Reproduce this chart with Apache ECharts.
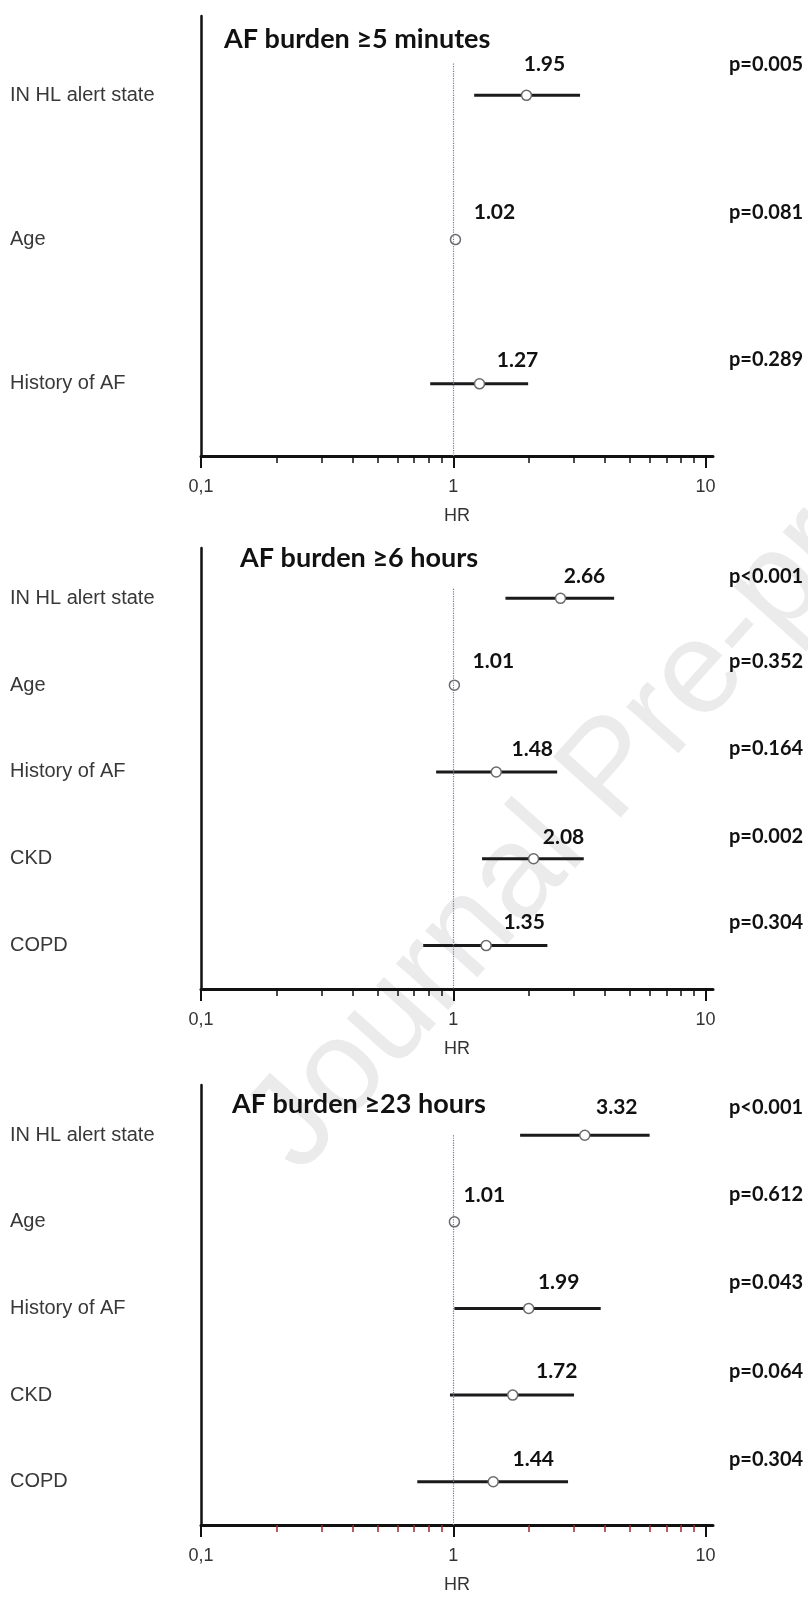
<!DOCTYPE html>
<html>
<head>
<meta charset="utf-8">
<script src="https://cdn.jsdelivr.net/npm/echarts@6/dist/echarts.min.js"></script>
<style>
  html, body { margin: 0; padding: 0; background: #fff; }
  #chart { width: 808px; height: 1597px; }
</style>
</head>
<body>
<div id="chart"></div>
<script>
// ---------------- DATA ----------------
const TITLES = ['AF burden ≥5 minutes', 'AF burden ≥6 hours', 'AF burden ≥23 hours'];

const ROWS_1 = ['IN HL alert state', 'Age', 'History of AF'];
const HR_1 = [1.95, 1.02, 1.27];
const LO_1 = [1.21, 1.00, 0.81];
const HI_1 = [3.18, 1.04, 1.98];
const P_1 = ['p=0.005', 'p=0.081', 'p=0.289'];

const ROWS_2 = ['IN HL alert state', 'Age', 'History of AF', 'CKD', 'COPD'];
const HR_2 = [2.66, 1.01, 1.48, 2.08, 1.35];
const LO_2 = [1.61, 0.99, 0.855, 1.30, 0.76];
const HI_2 = [4.34, 1.03, 2.58, 3.29, 2.36];
const P_2 = ['p<0.001', 'p=0.352', 'p=0.164', 'p=0.002', 'p=0.304'];

const ROWS_3 = ['IN HL alert state', 'Age', 'History of AF', 'CKD', 'COPD'];
const HR_3 = [3.32, 1.01, 1.99, 1.72, 1.44];
const LO_3 = [1.84, 0.99, 1.01, 0.97, 0.72];
const HI_3 = [6.00, 1.03, 3.84, 3.01, 2.85];
const P_3 = ['p<0.001', 'p=0.612', 'p=0.043', 'p=0.064', 'p=0.304'];

const X_MAJOR_TICKS = [0.1, 1, 10];
const X_MINOR_TICKS = [0.2, 0.3, 0.4, 0.5, 0.6, 0.7, 0.8, 0.9, 2, 3, 4, 5, 6, 7, 8, 9];
const X_AXIS_NAME = 'HR';
const WATERMARK = 'Journal Pre-proof';

// ---------------- LAYOUT / STYLE ----------------
const PANELS = [
  { rows: ROWS_1, hr: HR_1, lo: LO_1, hi: HI_1, p: P_1,
    top: 16, bottom: 456, yMinExt: 0.05, refStart: -0.22,
    titleLeft: 224, titleTop: 26, minorColor: '#111',
    lblOff: [[18, -31], [39, -27], [38, -24]] },
  { rows: ROWS_2, hr: HR_2, lo: LO_2, hi: HI_2, p: P_2,
    top: 548, bottom: 989, yMinExt: 0.08, refStart: -0.11,
    titleLeft: 240, titleTop: 545, minorColor: '#111',
    lblOff: [[24, -22], [39, -24], [36, -23], [30, -22], [38, -23]] },
  { rows: ROWS_3, hr: HR_3, lo: LO_3, hi: HI_3, p: P_3,
    top: 1085, bottom: 1525, yMinExt: 0.08, refStart: 0.0,
    titleLeft: 232, titleTop: 1091, minorColor: '#a0282d',
    lblOff: [[32, -28], [30, -27], [30, -26], [44, -24], [40, -22]] }
];
const GRID_LEFT = 201;
const GRID_WIDTH = 512;
const X_MIN = 0.1, X_MAX = 10.7;

const grids = [], xAxes = [], yAxes = [], series = [], titles = [];

PANELS.forEach((pn, k) => {
  const n = pn.rows.length;
  const yMin = -0.5 - pn.yMinExt, yMax = n - 0.5;
  const gridH = pn.bottom - pn.top;
  const slot = gridH / (yMax - yMin);
  grids.push({ left: GRID_LEFT, width: GRID_WIDTH, top: pn.top, height: gridH, containLabel: false });

  titles.push({
    text: TITLES[k], left: pn.titleLeft, top: pn.titleTop, padding: 0,
    textStyle: { fontFamily: 'Lato', fontWeight: 'bold', fontSize: 27, color: '#111' }
  });

  // major x axis
  xAxes.push({
    type: 'log', logBase: 10, gridIndex: k, min: X_MIN, max: X_MAX, position: 'bottom',
    axisLine: { show: true, onZero: false, lineStyle: { color: '#111', width: 3 } },
    axisTick: { show: true, customValues: X_MAJOR_TICKS, length: 12, lineStyle: { color: '#111', width: 2 } },
    axisLabel: {
      show: true, customValues: X_MAJOR_TICKS, margin: 22,
      fontFamily: 'Liberation Sans', fontSize: 18, color: '#333',
      formatter: v => (Math.abs(v - 0.1) < 1e-9 ? '0,1' : String(Math.round(v)))
    },
    splitLine: { show: false },
    name: X_AXIS_NAME, nameLocation: 'middle', nameGap: 51,
    nameTextStyle: { fontFamily: 'Liberation Sans', fontSize: 18, color: '#333' }
  });
  // minor tick axis
  xAxes.push({
    type: 'log', logBase: 10, gridIndex: k, min: X_MIN, max: X_MAX, position: 'bottom',
    axisLine: { show: false, onZero: false },
    axisTick: { show: true, customValues: X_MINOR_TICKS, length: 7, lineStyle: { color: pn.minorColor, width: 1.5 } },
    axisLabel: { show: false },
    splitLine: { show: false }
  });

  const idx = pn.rows.map((_, i) => i);
  // left y axis with row names
  yAxes.push({
    type: 'value', gridIndex: k, inverse: true, min: yMin, max: yMax, position: 'left',
    axisLine: { show: true, onZero: false, lineStyle: { color: '#111', width: 2.5 } },
    axisTick: { show: false },
    splitLine: { show: false },
    axisLabel: {
      show: true, customValues: idx, margin: GRID_LEFT - 10, align: 'left',
      fontFamily: 'Liberation Sans', fontSize: 20, color: '#383838',
      formatter: v => pn.rows[Math.round(v)]
    }
  });
  // right y axis with p values
  yAxes.push({
    type: 'value', gridIndex: k, inverse: true, min: yMin, max: yMax, position: 'right',
    axisLine: { show: false, onZero: false }, axisTick: { show: false }, splitLine: { show: false },
    axisLabel: {
      show: true, customValues: idx.map(i => i + pn.lblOff[i][1] / slot), margin: 16, align: 'left',
      fontFamily: 'Lato', fontWeight: 'bold', fontSize: 20, color: '#111',
      formatter: v => pn.p[Math.round(v)]
    }
  });

  const xMajor = k * 2, yLeft = k * 2;
  // CI lines
  series.push({
    type: 'custom', xAxisIndex: xMajor, yAxisIndex: yLeft, z: 3,
    data: idx.map(i => [pn.lo[i], pn.hi[i], i]),
    encode: { x: [0, 1], y: 2 },
    renderItem: (params, api) => {
      const a = api.coord([api.value(0), api.value(2)]);
      const b = api.coord([api.value(1), api.value(2)]);
      return { type: 'line', shape: { x1: a[0], y1: a[1], x2: b[0], y2: b[1] },
               style: { stroke: '#1a1a1a', lineWidth: 3 } };
    },
    markLine: {
      silent: true, symbol: 'none', label: { show: false },
      lineStyle: { color: '#7272c4', type: 'dotted', width: 1.2 },
      data: [[{ coord: [1, pn.refStart] }, { coord: [1, yMax] }]]
    }
  });
  // HR points
  series.push({
    type: 'scatter', xAxisIndex: xMajor, yAxisIndex: yLeft, z: 4,
    symbol: 'circle', symbolSize: 10,
    itemStyle: { color: '#fff', borderColor: '#6a6a6a', borderWidth: 1.5, opacity: 1 },
    data: idx.map(i => ({ value: [pn.hr[i], i], label: { offset: pn.lblOff[i] } })),
    label: {
      show: true, position: 'inside',
      fontFamily: 'Lato', fontWeight: 'bold', fontSize: 21, color: '#111',
      formatter: p => pn.hr[p.dataIndex].toFixed(2)
    }
  });
});

const chart = echarts.init(document.getElementById('chart'), null, { renderer: 'canvas' });
chart.setOption({
  backgroundColor: '#fff',
  animation: false,
  title: titles,
  grid: grids,
  xAxis: xAxes,
  yAxis: yAxes,
  series: series,
  graphic: [{
    type: 'text', x: 322, y: 1195, rotation: 0.84, z: -10, silent: true,
    style: { text: WATERMARK, font: '132px "Liberation Sans"', fill: '#ebebeb', align: 'left', verticalAlign: 'bottom' }
  }]
});
</script>
</body>
</html>
